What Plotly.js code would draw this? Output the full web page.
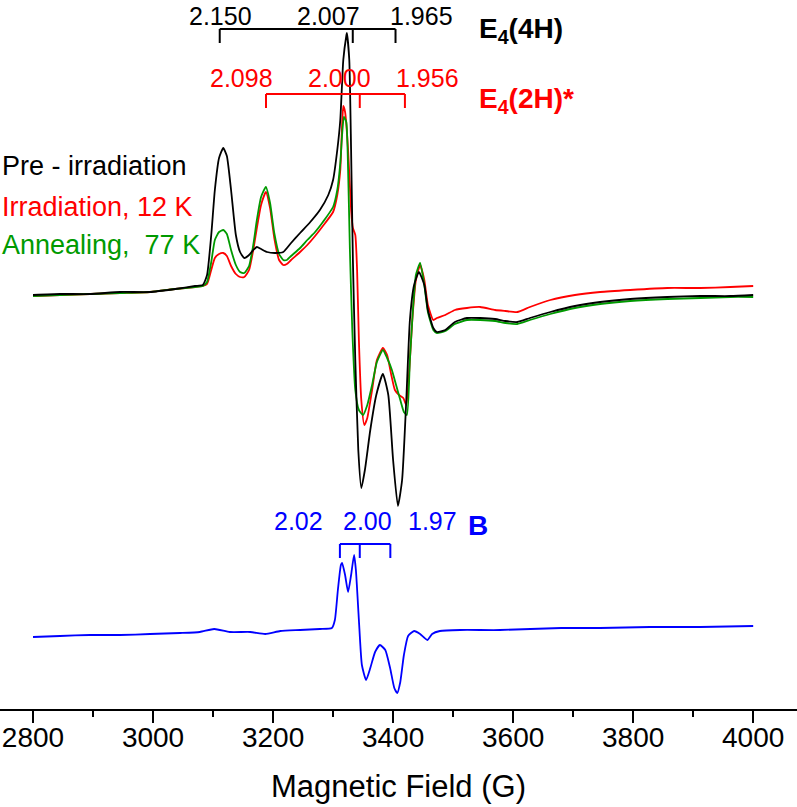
<!DOCTYPE html>
<html>
<head>
<meta charset="utf-8">
<script src="https://cdn.plot.ly/plotly-3.0.1.min.js"></script>
<style>
  body { margin: 0; background: #fff; }
  #graph { width: 797px; height: 807px; }
</style>
</head>
<body>
<div id="graph"></div>
<script>
// Spectres RPE (unites arbitraires), champ en gauss
var fieldPre = [2800, 2845, 2895, 2945, 2995, 3037, 3070, 3083, 3090, 3097, 3103, 3110, 3117, 3123, 3130, 3138, 3145, 3152, 3160, 3167, 3173, 3180, 3190, 3203, 3217, 3230, 3245, 3262, 3278, 3292, 3300, 3307, 3312, 3317, 3322, 3323, 3327, 3330, 3333, 3337, 3342, 3347, 3353, 3362, 3372, 3383, 3392, 3400, 3408, 3415, 3422, 3428, 3435, 3443, 3452, 3458, 3467, 3473, 3487, 3503, 3523, 3545, 3570, 3587, 3607, 3628, 3662, 3703, 3745, 3795, 3857, 3912, 3962, 4000];
var pre = [5, 6, 6, 8, 8, 11, 14, 15, 25, 65, 110, 142, 152, 144, 110, 65, 48, 42, 45, 50, 53, 51, 48, 47, 48, 57, 67, 78, 90, 105, 120, 150, 180, 240, 264, 267, 240, 150, 40, -60, -150, -188, -170, -130, -95, -74, -95, -160, -206, -180, -100, -20, 15, 28, 15, -10, -28, -32, -30, -22, -18, -18, -19, -21, -22, -18, -12, -6, -2, 1, 3, 4, 4, 5];

var fieldIrr = [2800, 2845, 2895, 2945, 2995, 3037, 3070, 3083, 3090, 3097, 3103, 3110, 3117, 3123, 3130, 3138, 3145, 3152, 3160, 3167, 3173, 3180, 3188, 3195, 3202, 3210, 3217, 3223, 3230, 3245, 3257, 3270, 3283, 3300, 3307, 3312, 3315, 3317, 3320, 3325, 3330, 3333, 3337, 3340, 3343, 3347, 3352, 3357, 3365, 3373, 3383, 3390, 3397, 3403, 3410, 3417, 3422, 3427, 3432, 3438, 3445, 3452, 3458, 3467, 3473, 3487, 3503, 3523, 3545, 3570, 3587, 3607, 3628, 3662, 3703, 3745, 3795, 3857, 3912, 3962, 4000];
var irr = [4, 5, 6, 7, 8, 11, 13, 14, 16, 30, 42, 46, 47, 44, 34, 26, 23, 23, 30, 50, 72, 95, 108, 92, 62, 40, 35, 36, 40, 48, 55, 64, 74, 88, 105, 130, 175, 194, 188, 150, 90, 72, 65, 30, -40, -100, -125, -118, -90, -60, -48, -55, -75, -90, -95, -98, -105, -70, -20, 20, 35, 20, -5, -20, -18, -15, -10, -8, -7, -10, -11, -12, -7, 0, 5, 8, 10, 12, 12, 13, 14];

var fieldAnn = [2800, 2845, 2895, 2945, 2995, 3037, 3070, 3083, 3090, 3097, 3103, 3110, 3117, 3123, 3130, 3138, 3145, 3152, 3160, 3167, 3173, 3180, 3188, 3195, 3202, 3210, 3217, 3223, 3230, 3245, 3257, 3270, 3283, 3300, 3307, 3312, 3315, 3318, 3322, 3325, 3328, 3332, 3337, 3343, 3350, 3357, 3365, 3373, 3383, 3390, 3398, 3405, 3412, 3418, 3423, 3428, 3433, 3438, 3445, 3452, 3458, 3467, 3473, 3487, 3503, 3523, 3545, 3570, 3587, 3607, 3628, 3662, 3703, 3745, 3795, 3857, 3912, 3962, 4000];
var ann = [4, 5, 6, 7, 8, 11, 13, 14, 18, 38, 60, 68, 70, 66, 50, 35, 28, 27, 34, 55, 80, 103, 113, 97, 67, 46, 40, 40, 44, 52, 60, 68, 78, 93, 110, 137, 165, 183, 178, 130, 50, -30, -90, -110, -115, -105, -85, -62, -50, -58, -70, -85, -100, -112, -115, -60, -10, 25, 37, 15, -12, -30, -33, -31, -24, -20, -20, -21, -23, -24, -20, -14, -8, -4, -1, 1, 2, 3, 3];

var fieldB = [2800, 2845, 2895, 2945, 2995, 3045, 3078, 3102, 3128, 3162, 3187, 3212, 3245, 3278, 3298, 3303, 3308, 3313, 3315, 3320, 3325, 3330, 3335, 3338, 3343, 3348, 3355, 3362, 3370, 3378, 3387, 3395, 3402, 3407, 3412, 3418, 3425, 3435, 3445, 3457, 3465, 3478, 3512, 3578, 3680, 3745, 3828, 3912, 4000];
var specB = [-5, -4, -3, -3, -2, -1, 0, 3, 0, 0, -2, 1, 2, 3, 4, 12, 42, 67, 69, 57, 40, 57, 77, 62, 12, -33, -48, -36, -20, -13, -18, -36, -56, -61, -50, -23, -4, 1, -2, -8, -2, 1, 2, 2, 4, 4, 5, 5, 6];
var offsetB = -332; // decalage vertical du spectre B

// Valeurs g des reperes
var gE4H = ['2.150', '2.007', '1.965'];
var gE2H = ['2.098', '2.000', '1.956'];
var gB = ['2.02', '2.00', '1.97'];
var freqMHz = 9362; // frequence micro-onde

var legendNames = ['Pre - irradiation', 'Irradiation, 12 K', 'Annealing,  77 K'];

var fontFam = 'Liberation Sans, Arial, sans-serif';

// champ de resonance pour une valeur g
function gToField(g) {
  return 0.714477 * freqMHz / parseFloat(g);
}

// crochet : ligne horizontale + trois petits traits
function bracket(gs, y, color) {
  var f = gs.map(gToField);
  var s = [{ type: 'line', xref: 'x', yref: 'y', x0: f[0], x1: f[2], y0: y, y1: y, line: { color: color, width: 2 } }];
  for (var i = 0; i < f.length; i++) {
    s.push({ type: 'line', xref: 'x', yref: 'y', x0: f[i], x1: f[i], y0: y, y1: y - 14, line: { color: color, width: 2 } });
  }
  return s;
}

function label(text, x, y, color, size, anchor) {
  return {
    text: text, x: x, y: y, xref: 'x', yref: 'y', showarrow: false,
    xanchor: anchor || 'center', yanchor: 'middle',
    font: { family: fontFam, size: size, color: color }
  };
}

var offB = specB.map(function (v) { return v + offsetB; });

// trace lissee (spline de plotly)
function curve(x, y, name, color) {
  return { x: x, y: y, type: 'scatter', mode: 'lines', name: name, line: { color: color, width: 1.8, shape: 'spline', smoothing: 0.5 } };
}

var data = [
  curve(fieldIrr, irr, legendNames[1], '#ff0000'),
  curve(fieldAnn, ann, legendNames[2], '#009a00'),
  curve(fieldPre, pre, legendNames[0], '#000000'),
  curve(fieldB, offB, 'B', '#0000ff')
];

var shapes = [].concat(bracket(gE4H, 271, '#000000'), bracket(gE2H, 206, '#ff0000'), bracket(gB, -244, '#0000ff'));

var annotations = [
  label(gE4H[0], 3113, 284, '#000000', 25),
  label(gE4H[1], 3293, 284, '#000000', 25),
  label(gE4H[2], 3448, 284, '#000000', 25),
  label('<b>E<sub>4</sub>(4H)</b>', 3540, 270, '#000000', 28, 'left'),
  label(gE2H[0], 3147, 222, '#ff0000', 25),
  label(gE2H[1], 3310, 222, '#ff0000', 25),
  label(gE2H[2], 3458, 222, '#ff0000', 25),
  label('<b>E<sub>4</sub>(2H)*</b>', 3540, 200, '#ff0000', 28, 'left'),
  label(gB[0], 3242, -221, '#0000ff', 25),
  label(gB[1], 3357, -221, '#0000ff', 25),
  label(gB[2], 3465, -221, '#0000ff', 25),
  label('<b>B</b>', 3542, -225, '#0000ff', 28),
  label(legendNames[0], 2745, 134, '#000000', 27, 'left'),
  label(legendNames[1], 2745, 93, '#ff0000', 27, 'left'),
  label(legendNames[2], 2745, 55, '#009a00', 27, 'left')
];

var layout = {
  width: 797,
  height: 807,
  margin: { l: 0, r: 0, t: 0, b: 98 },
  paper_bgcolor: '#ffffff',
  plot_bgcolor: '#ffffff',
  showlegend: false,
  xaxis: {
    range: [2745, 4073],
    showgrid: false,
    zeroline: false,
    showline: true,
    linecolor: '#000000',
    linewidth: 2,
    ticks: 'outside',
    ticklen: 12,
    tickwidth: 2,
    tickcolor: '#000000',
    ticklabelstandoff: -10,
    tick0: 2800,
    dtick: 200,
    minor: { ticks: 'outside', dtick: 100, ticklen: 6, tickwidth: 2, tickcolor: '#000000' },
    tickfont: { family: fontFam, size: 28, color: '#000000' },
    title: { text: 'Magnetic Field (G)', font: { family: fontFam, size: 31, color: '#000000' }, standoff: 24 }
  },
  yaxis: {
    range: [-409, 300],
    visible: false
  },
  shapes: shapes,
  annotations: annotations
};

Plotly.newPlot('graph', data, layout, { displayModeBar: false, staticPlot: true });
</script>
</body>
</html>
